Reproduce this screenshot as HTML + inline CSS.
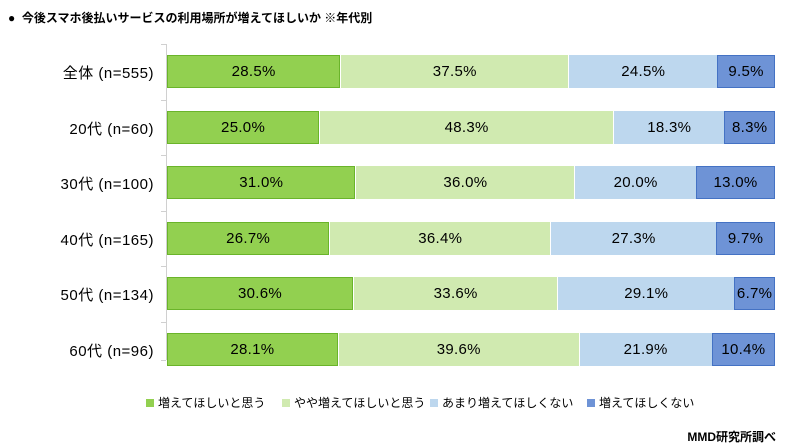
<!DOCTYPE html>
<html><head><meta charset="utf-8"><style>
body{margin:0;width:800px;height:448px;background:#fff;font-family:"Liberation Sans","Noto Sans CJK JP",sans-serif;position:relative;overflow:hidden}
.t{position:absolute;white-space:nowrap}
.bar{position:absolute;height:33px;box-sizing:border-box;font-size:15px;display:flex;align-items:center;justify-content:center;color:#000;letter-spacing:0.3px}
.lab{position:absolute;right:646px;font-size:15px;text-align:right;letter-spacing:0.5px}
.lg{position:absolute;top:394px;font-size:12px;display:flex;align-items:center;white-space:nowrap}
.lg i{display:inline-block;width:8px;height:8px;margin-right:4px}
</style></head><body>
<div class="t" style="left:8px;top:9px;font-size:12px;font-weight:bold">●&nbsp;&nbsp;今後スマホ後払いサービスの利用場所が増えてほしいか ※年代別</div>
<div style="position:absolute;left:166px;top:44px;width:1px;height:316px;background:#d0d0d0"></div>
<div id="c"></div>
<div class="lg" style="left:146px"><i style="background:#92d050"></i>増えてほしいと思う</div>
<div class="lg" style="left:282px"><i style="background:#d0eab0"></i>やや増えてほしいと思う</div>
<div class="lg" style="left:430px"><i style="background:#bdd7ee"></i>あまり増えてほしくない</div>
<div class="lg" style="left:587px"><i style="background:#6e93d6"></i>増えてほしくない</div>
<div class="t" style="right:24px;top:428px;font-size:12px;font-weight:bold">MMD研究所調べ</div>
<script>
var d=[["全体 (n=555)",28.5,37.5,24.5,9.5],["20代 (n=60)",25.0,48.3,18.3,8.3],["30代 (n=100)",31.0,36.0,20.0,13.0],["40代 (n=165)",26.7,36.4,27.3,9.7],["50代 (n=134)",30.6,33.6,29.1,6.7],["60代 (n=96)",28.1,39.6,21.9,10.4]];
var st=["background:#92d050;border:1px solid #6ab42a","background:#d0eab0;border-left:1px solid #fff","background:#bdd7ee;border-left:1px solid #fff","background:#6e93d6;border:1px solid #4472c4"];
var h="";
d.forEach(function(r,i){var top=55+i*55.5;h+='<div class="t lab" style="top:'+(top+7)+'px">'+r[0]+'</div>';
h+='<div style="position:absolute;left:161px;top:'+(top-11)+'px;width:5px;height:1px;background:#d0d0d0"></div>';
var tot=r[1]+r[2]+r[3]+r[4],x=167;for(var k=1;k<5;k++){var w=608*r[k]/tot;h+='<div class="bar" style="left:'+x+'px;top:'+top+'px;width:'+w+'px;'+st[k-1]+'">'+r[k].toFixed(1)+'%</div>';x+=w;}});
h+='<div style="position:absolute;left:161px;top:360px;width:5px;height:1px;background:#d0d0d0"></div>';
document.getElementById("c").innerHTML=h;
</script>
</body></html>
